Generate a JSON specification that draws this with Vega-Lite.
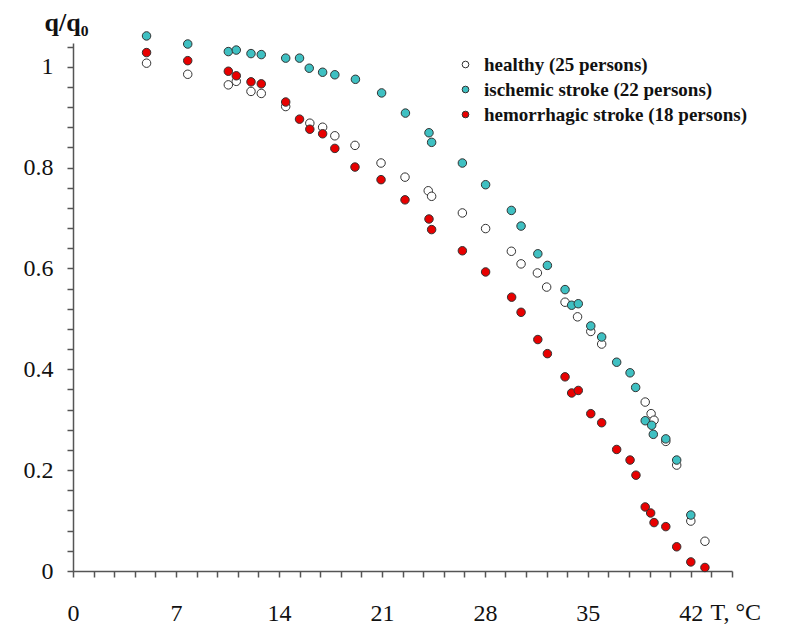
{
  "$schema": "https://vega.github.io/schema/vega-lite/v6.json",
  "autosize": {"type": "none"},
  "padding": {"left": 73, "top": 43, "right": 56, "bottom": 55},
  "width": 659,
  "height": 528,
  "background": "white",
  "config": {
    "view": {"stroke": null},
    "font": "Liberation Serif"
  },
  "data": {
    "values": [
      {"T": 5.0, "q": 1.007, "group": "healthy (25 persons)"},
      {"T": 7.8, "q": 0.985, "group": "healthy (25 persons)"},
      {"T": 10.56, "q": 0.964, "group": "healthy (25 persons)"},
      {"T": 11.1, "q": 0.971, "group": "healthy (25 persons)"},
      {"T": 12.1, "q": 0.951, "group": "healthy (25 persons)"},
      {"T": 12.8, "q": 0.947, "group": "healthy (25 persons)"},
      {"T": 14.46, "q": 0.921, "group": "healthy (25 persons)"},
      {"T": 16.1, "q": 0.888, "group": "healthy (25 persons)"},
      {"T": 16.97, "q": 0.880, "group": "healthy (25 persons)"},
      {"T": 17.8, "q": 0.863, "group": "healthy (25 persons)"},
      {"T": 19.17, "q": 0.844, "group": "healthy (25 persons)"},
      {"T": 20.94, "q": 0.809, "group": "healthy (25 persons)"},
      {"T": 22.57, "q": 0.781, "group": "healthy (25 persons)"},
      {"T": 24.15, "q": 0.754, "group": "healthy (25 persons)"},
      {"T": 24.38, "q": 0.743, "group": "healthy (25 persons)"},
      {"T": 26.47, "q": 0.710, "group": "healthy (25 persons)"},
      {"T": 28.05, "q": 0.679, "group": "healthy (25 persons)"},
      {"T": 29.8, "q": 0.634, "group": "healthy (25 persons)"},
      {"T": 30.46, "q": 0.609, "group": "healthy (25 persons)"},
      {"T": 31.57, "q": 0.591, "group": "healthy (25 persons)"},
      {"T": 32.2, "q": 0.563, "group": "healthy (25 persons)"},
      {"T": 33.45, "q": 0.533, "group": "healthy (25 persons)"},
      {"T": 34.3, "q": 0.504, "group": "healthy (25 persons)"},
      {"T": 35.2, "q": 0.475, "group": "healthy (25 persons)"},
      {"T": 35.94, "q": 0.450, "group": "healthy (25 persons)"},
      {"T": 38.9, "q": 0.335, "group": "healthy (25 persons)"},
      {"T": 39.3, "q": 0.312, "group": "healthy (25 persons)"},
      {"T": 39.5, "q": 0.299, "group": "healthy (25 persons)"},
      {"T": 40.3, "q": 0.257, "group": "healthy (25 persons)"},
      {"T": 41.04, "q": 0.210, "group": "healthy (25 persons)"},
      {"T": 42.0, "q": 0.099, "group": "healthy (25 persons)"},
      {"T": 42.96, "q": 0.059, "group": "healthy (25 persons)"},

      {"T": 5.0, "q": 1.061, "group": "ischemic stroke (22 persons)"},
      {"T": 7.8, "q": 1.045, "group": "ischemic stroke (22 persons)"},
      {"T": 10.56, "q": 1.030, "group": "ischemic stroke (22 persons)"},
      {"T": 11.1, "q": 1.033, "group": "ischemic stroke (22 persons)"},
      {"T": 12.1, "q": 1.026, "group": "ischemic stroke (22 persons)"},
      {"T": 12.8, "q": 1.024, "group": "ischemic stroke (22 persons)"},
      {"T": 14.46, "q": 1.017, "group": "ischemic stroke (22 persons)"},
      {"T": 15.4, "q": 1.017, "group": "ischemic stroke (22 persons)"},
      {"T": 16.06, "q": 0.997, "group": "ischemic stroke (22 persons)"},
      {"T": 16.97, "q": 0.989, "group": "ischemic stroke (22 persons)"},
      {"T": 17.8, "q": 0.984, "group": "ischemic stroke (22 persons)"},
      {"T": 19.2, "q": 0.975, "group": "ischemic stroke (22 persons)"},
      {"T": 20.98, "q": 0.948, "group": "ischemic stroke (22 persons)"},
      {"T": 22.6, "q": 0.908, "group": "ischemic stroke (22 persons)"},
      {"T": 24.2, "q": 0.869, "group": "ischemic stroke (22 persons)"},
      {"T": 24.38, "q": 0.850, "group": "ischemic stroke (22 persons)"},
      {"T": 26.47, "q": 0.809, "group": "ischemic stroke (22 persons)"},
      {"T": 28.05, "q": 0.766, "group": "ischemic stroke (22 persons)"},
      {"T": 29.8, "q": 0.715, "group": "ischemic stroke (22 persons)"},
      {"T": 30.46, "q": 0.684, "group": "ischemic stroke (22 persons)"},
      {"T": 31.6, "q": 0.629, "group": "ischemic stroke (22 persons)"},
      {"T": 32.25, "q": 0.606, "group": "ischemic stroke (22 persons)"},
      {"T": 33.45, "q": 0.558, "group": "ischemic stroke (22 persons)"},
      {"T": 33.9, "q": 0.527, "group": "ischemic stroke (22 persons)"},
      {"T": 34.35, "q": 0.530, "group": "ischemic stroke (22 persons)"},
      {"T": 35.2, "q": 0.486, "group": "ischemic stroke (22 persons)"},
      {"T": 35.94, "q": 0.464, "group": "ischemic stroke (22 persons)"},
      {"T": 36.96, "q": 0.414, "group": "ischemic stroke (22 persons)"},
      {"T": 37.87, "q": 0.393, "group": "ischemic stroke (22 persons)"},
      {"T": 38.25, "q": 0.364, "group": "ischemic stroke (22 persons)"},
      {"T": 38.9, "q": 0.298, "group": "ischemic stroke (22 persons)"},
      {"T": 39.34, "q": 0.289, "group": "ischemic stroke (22 persons)"},
      {"T": 39.45, "q": 0.271, "group": "ischemic stroke (22 persons)"},
      {"T": 40.3, "q": 0.262, "group": "ischemic stroke (22 persons)"},
      {"T": 41.04, "q": 0.220, "group": "ischemic stroke (22 persons)"},
      {"T": 42.0, "q": 0.111, "group": "ischemic stroke (22 persons)"},

      {"T": 5.0, "q": 1.028, "group": "hemorrhagic stroke (18 persons)"},
      {"T": 7.8, "q": 1.012, "group": "hemorrhagic stroke (18 persons)"},
      {"T": 10.56, "q": 0.991, "group": "hemorrhagic stroke (18 persons)"},
      {"T": 11.1, "q": 0.982, "group": "hemorrhagic stroke (18 persons)"},
      {"T": 12.1, "q": 0.970, "group": "hemorrhagic stroke (18 persons)"},
      {"T": 12.8, "q": 0.966, "group": "hemorrhagic stroke (18 persons)"},
      {"T": 14.46, "q": 0.930, "group": "hemorrhagic stroke (18 persons)"},
      {"T": 15.4, "q": 0.896, "group": "hemorrhagic stroke (18 persons)"},
      {"T": 16.1, "q": 0.876, "group": "hemorrhagic stroke (18 persons)"},
      {"T": 16.97, "q": 0.867, "group": "hemorrhagic stroke (18 persons)"},
      {"T": 17.8, "q": 0.838, "group": "hemorrhagic stroke (18 persons)"},
      {"T": 19.17, "q": 0.801, "group": "hemorrhagic stroke (18 persons)"},
      {"T": 20.94, "q": 0.776, "group": "hemorrhagic stroke (18 persons)"},
      {"T": 22.57, "q": 0.736, "group": "hemorrhagic stroke (18 persons)"},
      {"T": 24.2, "q": 0.698, "group": "hemorrhagic stroke (18 persons)"},
      {"T": 24.38, "q": 0.677, "group": "hemorrhagic stroke (18 persons)"},
      {"T": 26.47, "q": 0.635, "group": "hemorrhagic stroke (18 persons)"},
      {"T": 28.05, "q": 0.593, "group": "hemorrhagic stroke (18 persons)"},
      {"T": 29.82, "q": 0.543, "group": "hemorrhagic stroke (18 persons)"},
      {"T": 30.46, "q": 0.513, "group": "hemorrhagic stroke (18 persons)"},
      {"T": 31.6, "q": 0.459, "group": "hemorrhagic stroke (18 persons)"},
      {"T": 32.25, "q": 0.431, "group": "hemorrhagic stroke (18 persons)"},
      {"T": 33.45, "q": 0.385, "group": "hemorrhagic stroke (18 persons)"},
      {"T": 33.9, "q": 0.353, "group": "hemorrhagic stroke (18 persons)"},
      {"T": 34.35, "q": 0.358, "group": "hemorrhagic stroke (18 persons)"},
      {"T": 35.2, "q": 0.312, "group": "hemorrhagic stroke (18 persons)"},
      {"T": 35.94, "q": 0.294, "group": "hemorrhagic stroke (18 persons)"},
      {"T": 36.96, "q": 0.241, "group": "hemorrhagic stroke (18 persons)"},
      {"T": 37.87, "q": 0.220, "group": "hemorrhagic stroke (18 persons)"},
      {"T": 38.27, "q": 0.190, "group": "hemorrhagic stroke (18 persons)"},
      {"T": 38.9, "q": 0.127, "group": "hemorrhagic stroke (18 persons)"},
      {"T": 39.27, "q": 0.115, "group": "hemorrhagic stroke (18 persons)"},
      {"T": 39.5, "q": 0.096, "group": "hemorrhagic stroke (18 persons)"},
      {"T": 40.3, "q": 0.088, "group": "hemorrhagic stroke (18 persons)"},
      {"T": 41.04, "q": 0.048, "group": "hemorrhagic stroke (18 persons)"},
      {"T": 42.0, "q": 0.018, "group": "hemorrhagic stroke (18 persons)"},
      {"T": 42.96, "q": 0.007, "group": "hemorrhagic stroke (18 persons)"}
    ]
  },
  "mark": {"type": "point", "filled": true, "shape": "circle", "size": 72, "stroke": "#333333", "strokeWidth": 1, "opacity": 1},
  "encoding": {
    "x": {
      "field": "T", "type": "quantitative",
      "scale": {"domain": [0, 44.8], "nice": false, "zero": false},
      "axis": {
        "title": "T, °C",
        "titleFont": "Liberation Serif", "titleFontSize": 24, "titleFontWeight": "normal", "titleColor": "#111",
        "titleAngle": 0, "titleAlign": "left", "titleBaseline": "alphabetic", "titleX": 637, "titleY": 48,
        "titleLimit": 200,
        "values": [0,1.4,2.8,4.2,5.6,7,8.4,9.8,11.2,12.6,14,15.4,16.8,18.2,19.6,21,22.4,23.8,25.2,26.6,28,29.4,30.8,32.2,33.6,35,36.4,37.8,39.2,40.6,42,43.4,44.8],
        "labelExpr": "indexof([0,7,14,21,28,35,42], datum.value) >= 0 ? format(datum.value, 'd') : ''",
        "labelOverlap": false, "labelBound": false, "labelFlush": false,
        "labelFont": "Liberation Serif", "labelFontSize": 24, "labelColor": "#111",
        "labelPadding": 24,
        "grid": false, "domainColor": "#555", "domainWidth": 1.5, "tickColor": "#555", "tickWidth": 1.5, "tickSize": 6
      }
    },
    "y": {
      "field": "q", "type": "quantitative",
      "scale": {"domain": [0, 1.047], "nice": false, "zero": false},
      "axis": {
        "title": "q/q₀",
        "titleFont": "Liberation Serif", "titleFontSize": 26, "titleFontWeight": "bold", "titleColor": "#111",
        "titleAngle": 0, "titleAlign": "left", "titleBaseline": "alphabetic", "titleX": -29, "titleY": -13,
        "values": [0,0.04,0.08,0.12,0.16,0.2,0.24,0.28,0.32,0.36,0.4,0.44,0.48,0.52,0.56,0.6,0.64,0.68,0.72,0.76,0.8,0.84,0.88,0.92,0.96,1,1.04],
        "labelExpr": "abs(datum.value*5 - round(datum.value*5)) < 0.001 ? format(datum.value, '~g') : ''",
        "labelOverlap": false, "labelBound": false, "labelFlush": false,
        "labelFont": "Liberation Serif", "labelFontSize": 24, "labelColor": "#111",
        "labelPadding": 14,
        "grid": false, "domainColor": "#555", "domainWidth": 1.5, "tickColor": "#555", "tickWidth": 1.5, "tickSize": 6
      }
    },
    "fill": {
      "field": "group", "type": "nominal",
      "scale": {
        "domain": ["healthy (25 persons)", "ischemic stroke (22 persons)", "hemorrhagic stroke (18 persons)"],
        "range": ["#ffffff", "#3fc0c2", "#e80000"]
      },
      "legend": {
        "title": null,
        "orient": "none", "legendX": 383, "legendY": 12,
        "padding": 0, "rowPadding": 5,
        "symbolType": "circle", "symbolSize": 45, "symbolStrokeColor": "#333333", "symbolStrokeWidth": 1, "symbolOpacity": 1,
        "labelFont": "Liberation Serif", "labelFontSize": 19, "labelFontWeight": "bold", "labelColor": "#111", "labelOffset": 9, "labelLimit": 400
      }
    }
  }
}
